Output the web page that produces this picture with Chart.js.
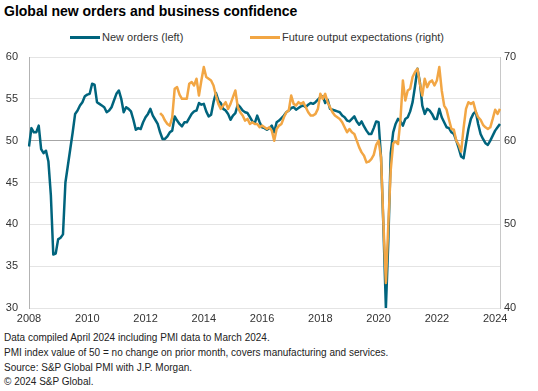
<!DOCTYPE html>
<html>
<head>
<meta charset="utf-8">
<script src="https://cdn.jsdelivr.net/npm/chart.js@4"></script>
<style>
  body { margin: 0; background: #fff; font-family: "Liberation Sans", Arial, sans-serif; color: #1a1a1a; }
  #wrap { position: relative; width: 538px; height: 391px; overflow: hidden; }
  #titulo { position: absolute; left: 4px; top: 3px; font-size: 14px; font-weight: bold; color: #000; }
  .leyenda { position: absolute; top: 31px; font-size: 11px; color: #333; white-space: nowrap; }
  .leyenda span.linea { display: inline-block; width: 30px; height: 3px; vertical-align: middle; margin-right: 2px; position: relative; top: -1px; }
  #lienzo { position: absolute; left: 0; top: 44px; }
  #notas { position: absolute; left: 4px; top: 331px; font-size: 10px; line-height: 14.8px; color: #222; }
</style>
</head>
<body>
<div id="wrap">
  <div id="titulo">Global new orders and business confidence</div>
  <div class="leyenda" style="left:70px"><span class="linea" style="background:#00647d"></span>New orders (left)</div>
  <div class="leyenda" style="left:250px"><span class="linea" style="background:#f2a644"></span>Future output expectations (right)</div>
  <canvas id="lienzo" width="538" height="286"></canvas>
  <div id="notas">
    Data compiled April 2024 including PMI data to March 2024.<br>
    PMI index value of 50 = no change on prior month, covers manufacturing and services.<br>
    Source: S&amp;P Global PMI with J.P. Morgan.<br>
    © 2024 S&amp;P Global.
  </div>
</div>
<script>
// datos mensuales, ene 2008 - mar 2024
const anioInicio = 2008;
const mesesTotal = 195;
const inicioExpectativas = 54; // jul 2012

const nuevosPedidos = [
  49.3, 51.5, 51.0, 51.0, 51.8, 49.0, 48.5, 48.8, 47.5, 43.5, 36.4, 36.5, // 2008
  38.2, 38.4, 38.8, 45.0, 47.0, 49.0, 51.0, 53.2, 53.6, 54.2, 54.6, 55.3, // 2009
  55.5, 55.6, 56.8, 56.7, 54.6, 54.4, 54.2, 54.0, 53.4, 53.6, 54.0, 54.8, // 2010
  55.6, 56.0, 55.0, 53.4, 54.0, 53.8, 53.5, 52.5, 51.3, 51.5, 51.4, 52.2, // 2011
  52.8, 53.2, 53.8, 53.0, 52.5, 52.0, 51.0, 50.2, 50.2, 50.5, 51.0, 51.2, // 2012
  52.9, 52.4, 52.0, 51.7, 52.2, 52.2, 52.7, 53.2, 53.5, 53.6, 54.5, 54.3, // 2013
  54.4, 53.5, 52.9, 53.1, 54.6, 55.7, 54.8, 54.5, 53.8, 53.6, 53.2, 52.5, // 2014
  53.0, 53.3, 54.3, 54.0, 53.6, 53.4, 53.3, 52.8, 52.3, 52.1, 53.0, 52.2, // 2015
  51.6, 51.5, 51.3, 51.5, 51.8, 51.0, 52.2, 52.4, 52.7, 53.0, 53.4, 53.6, // 2016
  53.9, 54.0, 53.7, 53.9, 54.1, 54.2, 54.0, 54.3, 54.5, 54.4, 54.6, 54.9, // 2017
  55.2, 55.3, 54.5, 54.9, 53.8, 53.7, 53.6, 53.5, 53.4, 53.0, 52.8, 52.4, // 2018
  52.3, 52.6, 52.9, 52.3, 51.9, 52.3, 51.7, 51.2, 50.8, 50.8, 51.5, 52.3, // 2019
  52.2, 48.0, 39.5, 30.0, 38.0, 48.5, 51.0, 52.0, 52.6, 52.3, 51.8, 52.6, // 2020
  52.8, 53.5, 54.6, 56.5, 58.6, 57.0, 54.2, 53.2, 53.8, 53.6, 53.2, 52.6, // 2021
  52.6, 53.8, 52.8, 52.2, 51.6, 51.5, 51.0, 50.8, 50.0, 49.1, 48.1, 47.9, // 2022
  49.7, 51.4, 52.6, 53.2, 53.5, 52.0, 50.8, 50.2, 49.7, 49.5, 50.0, 50.6, // 2023
  51.2, 51.6, 52.0                                                         // 2024
];

const expectativas = [
  63.3, 63.0, 62.4, 62.0, 61.8, 62.8,                                     // 2012 jul-dic
  66.2, 66.4, 65.5, 65.0, 65.0, 65.0, 66.8, 67.0, 66.6, 67.4, 65.4, 67.2, // 2013
  68.8, 67.6, 67.4, 67.2, 66.6, 65.4, 64.4, 63.8, 64.2, 64.6, 63.8, 64.4, // 2014
  65.2, 66.0, 64.0, 63.4, 63.0, 62.4, 62.6, 62.0, 62.2, 62.0, 62.0, 61.6, // 2015
  61.8, 61.6, 61.4, 61.6, 61.2, 60.0, 61.4, 61.8, 62.0, 62.8, 63.4, 63.6, // 2016
  65.4, 64.4, 64.2, 64.6, 64.4, 64.6, 64.0, 63.4, 63.0, 63.0, 63.2, 63.8, // 2017
  65.6, 65.0, 65.6, 64.6, 64.0, 63.4, 63.0, 62.8, 62.6, 62.2, 61.6, 61.0, // 2018
  61.4, 61.0, 60.8, 60.0, 59.2, 58.6, 58.2, 57.4, 57.5, 57.8, 58.3, 59.5, // 2019
  60.0, 58.0, 50.0, 43.0, 50.0, 56.5, 59.7, 59.9, 59.6, 62.5, 67.2, 64.8, // 2020
  66.0, 66.2, 67.6, 68.2, 68.6, 66.8, 65.4, 67.4, 66.4, 67.0, 67.2, 66.6, // 2021
  67.2, 68.8, 66.0, 64.2, 63.7, 62.5, 61.4, 61.3, 60.0, 59.5, 58.7, 61.5, // 2022
  63.8, 64.6, 64.4, 64.6, 63.5, 62.8, 62.5, 61.9, 61.6, 61.4, 61.6, 62.6, // 2023
  63.7, 63.2, 63.8                                                         // 2024
];

const ticksIzq = [30, 35, 40, 45, 50, 55, 60];
const ticksDer = [40, 50, 60, 70];

// etiquetas mes a mes
let etiquetas = [];
for (let i = 0; i < mesesTotal; i++) {
  etiquetas.push((anioInicio + Math.floor(i / 12)) + "-" + String(i % 12 + 1).padStart(2, "0"));
}

let datosExp = etiquetas.map((e, i) => i < inicioExpectativas ? null : expectativas[i - inicioExpectativas]);

const fuente = { family: "'Liberation Sans', Arial, sans-serif", size: 11 };

const ctx = document.getElementById("lienzo").getContext("2d");
let chart = new Chart(ctx, {
  type: "line",
  data: {
    labels: etiquetas,
    datasets: [
      {
        label: "New orders (left)",
        data: nuevosPedidos,
        borderColor: "#00647d",
        yAxisID: "y",
        order: 1
      },
      {
        label: "Future output expectations (right)",
        data: datosExp,
        borderColor: "#f2a644",
        yAxisID: "y1",
        order: 0
      }
    ]
  },
  options: {
    responsive: false,
    animation: false,
    layout: { padding: { top: 13, left: 0, right: 0, bottom: 0 } },
    elements: {
      point: { radius: 0 },
      line: { borderWidth: 2.5, tension: 0, borderJoinStyle: "round" }
    },
    plugins: {
      legend: { display: false },
      tooltip: { enabled: false }
    },
    scales: {
      x: {
        type: "category",
        offset: false,
        grid: { display: false, drawTicks: false },
        border: { display: false },
        ticks: {
          autoSkip: false,
          maxRotation: 0,
          padding: 4,
          color: "#333",
          font: fuente,
          callback: function (val, idx) {
            return idx % 24 === 0 ? String(anioInicio + idx / 12) : "";
          }
        },
        afterFit: function (s) { s.height = 22; }
      },
      y: {
        position: "left",
        min: 30,
        max: 60,
        afterBuildTicks: function (s) { s.ticks = ticksIzq.map(v => ({ value: v })); },
        grid: {
          drawTicks: true,
          tickLength: 7,
          tickColor: "transparent",
          color: c => c.tick && c.tick.value === 50 ? "#a6a6a6" : "#e4e4e4"
        },
        border: { display: true, color: "#b3b3b3" },
        ticks: { padding: 4, color: "#333", font: fuente },
        afterFit: function (s) { s.width = 29; }
      },
      y1: {
        position: "right",
        min: 40,
        max: 70,
        afterBuildTicks: function (s) { s.ticks = ticksDer.map(v => ({ value: v })); },
        grid: { drawOnChartArea: false, drawTicks: false },
        border: { display: true, color: "#c8c8c8" },
        ticks: { padding: 4, color: "#333", font: fuente },
        afterFit: function (s) { s.width = 38; }
      }
    }
  }
});
</script>
</body>
</html>
